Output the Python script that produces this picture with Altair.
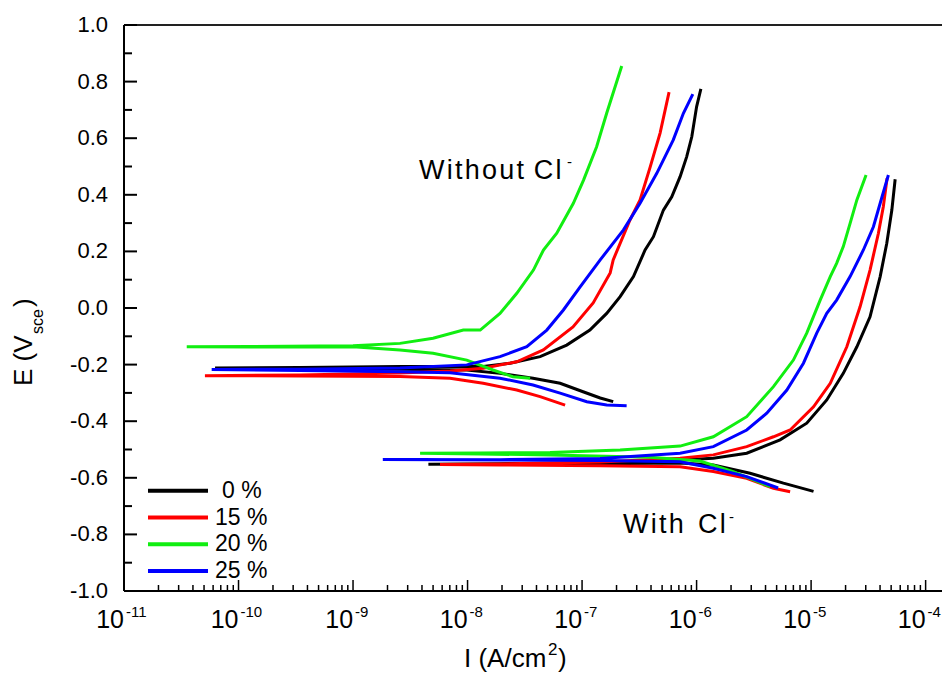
import altair as alt
import pandas as pd

SERIES = ["0 %", "15 %", "20 %", "25 %"]
COLORS = ["#000000", "#ff0000", "#11ee11", "#0000ff"]
FONT = "Liberation Sans"

# ---- Without Cl- (scan from cathodic end -> corrosion potential -> anodic end)
wo_0_I = [1.87e-7, 1.44e-7, 1.02e-7, 6.43e-8, 3.73e-8, 1.92e-8, 9.84e-9, 2.57e-9, 3.44e-10, 6.24e-11,
          3.44e-10, 2.57e-9, 1.37e-8, 2.35e-8, 4.30e-8, 7.34e-8, 1.17e-7, 1.64e-7, 2.15e-7, 2.81e-7,
          3.55e-7, 4.20e-7, 5.13e-7, 6.07e-7, 7.18e-7, 8.20e-7, 9.08e-7, 1.00e-6, 1.09e-6]
wo_0_E = [-0.331, -0.318, -0.296, -0.266, -0.248, -0.231, -0.219, -0.216, -0.214, -0.212,
          -0.210, -0.207, -0.207, -0.195, -0.172, -0.131, -0.078, -0.019, 0.040, 0.111,
          0.205, 0.252, 0.346, 0.393, 0.464, 0.535, 0.605, 0.711, 0.774]

wo_15_I = [7.11e-8, 4.30e-8, 2.69e-8, 1.37e-8, 7.03e-9, 2.57e-9, 3.44e-10, 5.09e-11,
           3.44e-10, 2.57e-9, 7.03e-9, 1.37e-8, 2.69e-8, 4.59e-8, 8.33e-8, 1.25e-7, 1.76e-7,
           1.87e-7, 2.62e-7, 3.21e-7, 3.93e-7, 4.80e-7, 5.75e-7]
wo_15_E = [-0.343, -0.313, -0.290, -0.266, -0.248, -0.242, -0.240, -0.239,
           -0.237, -0.230, -0.223, -0.213, -0.190, -0.148, -0.067, 0.018, 0.124,
           0.170, 0.311, 0.382, 0.498, 0.618, 0.763]

wo_20_I = [3.52e-8, 2.49e-8, 1.67e-8, 9.84e-9, 5.0e-9, 2.57e-9, 1.0e-9, 1.26e-10, 3.53e-11,
           1.26e-10, 1.0e-9, 2.57e-9, 5.0e-9, 9.18e-9, 1.29e-8, 1.92e-8, 2.69e-8, 3.76e-8,
           4.60e-8, 6.01e-8, 8.39e-8, 1.03e-7, 1.34e-7, 1.64e-7, 2.22e-7]
wo_20_E = [-0.248, -0.243, -0.219, -0.184, -0.160, -0.148, -0.137, -0.138, -0.137,
           -0.136, -0.133, -0.125, -0.107, -0.078, -0.078, -0.019, 0.052, 0.134,
           0.205, 0.264, 0.370, 0.452, 0.570, 0.688, 0.855]

wo_25_I = [2.45e-7, 1.64e-7, 1.10e-7, 6.43e-8, 3.73e-8, 1.92e-8, 7.03e-9, 2.57e-9, 3.44e-10, 5.83e-11,
           3.44e-10, 2.57e-9, 9.84e-9, 1.92e-8, 3.29e-8, 4.92e-8, 6.87e-8, 9.62e-8, 1.44e-7,
           2.30e-7, 3.21e-7, 4.49e-7, 6.26e-7, 7.67e-7, 9.27e-7]
wo_25_E = [-0.345, -0.343, -0.331, -0.301, -0.272, -0.248, -0.229, -0.225, -0.221, -0.217,
           -0.216, -0.212, -0.201, -0.172, -0.137, -0.078, -0.007, 0.075, 0.170,
           0.276, 0.370, 0.476, 0.594, 0.688, 0.756]

# ---- With Cl-
w_0_I = [1.05e-5, 5.73e-6, 2.93e-6, 1.40e-6, 7.18e-7, 1.44e-7, 1.92e-8, 4.55e-9,
         1.92e-8, 1.44e-7, 7.18e-7, 1.40e-6, 2.74e-6, 5.36e-6, 9.16e-6, 1.37e-5, 1.91e-5,
         2.51e-5, 3.27e-5, 4.01e-5, 4.58e-5, 5.07e-5, 5.42e-5]
w_0_E = [-0.648, -0.619, -0.584, -0.555, -0.548, -0.550, -0.551, -0.552,
         -0.550, -0.548, -0.537, -0.531, -0.513, -0.466, -0.407, -0.325, -0.231,
         -0.137, -0.031, 0.111, 0.229, 0.346, 0.455]

w_15_I = [6.56e-6, 4.69e-6, 2.74e-6, 1.40e-6, 7.18e-7, 1.44e-7, 1.92e-8, 5.75e-9,
          1.92e-8, 1.44e-7, 7.18e-7, 1.40e-6, 2.74e-6, 4.69e-6, 6.56e-6, 1.05e-5, 1.47e-5,
          2.05e-5, 2.68e-5, 3.27e-5, 3.87e-5, 4.27e-5, 4.61e-5]
w_15_E = [-0.649, -0.637, -0.602, -0.578, -0.561, -0.557, -0.555, -0.553,
          -0.551, -0.544, -0.531, -0.519, -0.490, -0.455, -0.431, -0.349, -0.266,
          -0.137, 0.005, 0.134, 0.264, 0.358, 0.459]

w_20_I = [4.39e-6, 2.09e-6, 1.07e-6, 3.93e-7, 5.26e-8, 1.29e-8, 3.85e-9,
          1.29e-8, 5.26e-8, 2.15e-7, 7.18e-7, 1.40e-6, 2.74e-6, 4.69e-6, 7.00e-6, 9.16e-6,
          1.20e-5, 1.47e-5, 1.67e-5, 1.91e-5, 2.19e-5, 2.51e-5, 3.02e-5]
w_20_E = [-0.631, -0.578, -0.541, -0.527, -0.519, -0.516, -0.513,
          -0.512, -0.511, -0.502, -0.488, -0.455, -0.384, -0.278, -0.184, -0.089,
          0.028, 0.111, 0.158, 0.217, 0.299, 0.382, 0.470]

w_25_I = [5.15e-6, 2.74e-6, 1.40e-6, 7.18e-7, 1.44e-7, 1.92e-8, 1.82e-9,
          1.92e-8, 1.44e-7, 7.18e-7, 1.40e-6, 2.74e-6, 4.10e-6, 6.14e-6, 8.57e-6, 1.12e-5,
          1.37e-5, 1.67e-5, 2.19e-5, 2.86e-5, 3.50e-5, 4.01e-5, 4.73e-5]
w_25_E = [-0.636, -0.596, -0.566, -0.543, -0.539, -0.537, -0.535,
          -0.536, -0.532, -0.513, -0.490, -0.431, -0.372, -0.290, -0.195, -0.089,
          -0.019, 0.028, 0.111, 0.205, 0.287, 0.370, 0.470]

Y_MAJOR = [-1.0, -0.8, -0.6, -0.4, -0.2, 0.0, 0.2, 0.4, 0.6, 0.8, 1.0]
Y_LABELS = ["-1.0", "-0.8", "-0.6", "-0.4", "-0.2", "0.0", "0.2", "0.4", "0.6", "0.8", "1.0"]
Y_MINOR = [-0.9, -0.7, -0.5, -0.3, -0.1, 0.1, 0.3, 0.5, 0.7, 0.9]
X_EXP = [-11, -10, -9, -8, -7, -6, -5, -4]
X_EXP_LABELS = ["-11", "-10", "-9", "-8", "-7", "-6", "-5", "-4"]

W, H = 818, 566
XMAX = 1.39e-4
HS = "\u200a"  # hair space, used for the wide letter spacing of the annotations

curves = [
    ("0 %", "without", wo_0_I, wo_0_E), ("15 %", "without", wo_15_I, wo_15_E),
    ("20 %", "without", wo_20_I, wo_20_E), ("25 %", "without", wo_25_I, wo_25_E),
    ("0 %", "with", w_0_I, w_0_E), ("15 %", "with", w_15_I, w_15_E),
    ("20 %", "with", w_20_I, w_20_E), ("25 %", "with", w_25_I, w_25_E),
]
rows = []
for s, c, Is, Es in curves:
    for k, (i, e) in enumerate(zip(Is, Es)):
        rows.append({"series": s, "cond": c, "key": s + "|" + c, "idx": k, "I": i, "E": e})
df = pd.DataFrame(rows)

xscale = alt.Scale(type="log", domain=[1e-11, XMAX], nice=False)
yscale = alt.Scale(domain=[-1, 1], nice=False, zero=False)

lines = alt.Chart(df).mark_line(strokeWidth=3, clip=True).encode(
    x=alt.X("I:Q", scale=xscale, axis=None),
    y=alt.Y("E:Q", scale=yscale, axis=None),
    color=alt.Color("series:N", scale=alt.Scale(domain=SERIES, range=COLORS), legend=None),
    detail="key:N",
    order="idx:Q",
)

one = pd.DataFrame({"a": [0]})

# axis lines (left, bottom) and top frame line
axes_lines = [
    alt.Chart(one).mark_rule(color="black", strokeWidth=2).encode(
        x=alt.value(0), y=alt.value(0), y2=alt.value(H)),
    alt.Chart(one).mark_rule(color="black", strokeWidth=2).encode(
        x=alt.value(0), x2=alt.value(W), y=alt.value(H)),
    alt.Chart(one).mark_rule(color="#222222", strokeWidth=2).encode(
        x=alt.value(0), x2=alt.value(W), y=alt.value(0)),
]

ymaj = alt.Chart(pd.DataFrame({"v": Y_MAJOR})).mark_rule(color="black", strokeWidth=2).encode(
    y=alt.Y("v:Q", scale=yscale, axis=None), x=alt.value(0), x2=alt.value(13))
ymin = alt.Chart(pd.DataFrame({"v": Y_MINOR})).mark_rule(color="black", strokeWidth=2).encode(
    y=alt.Y("v:Q", scale=yscale, axis=None), x=alt.value(0), x2=alt.value(8))
ylab = alt.Chart(pd.DataFrame({"v": Y_MAJOR, "t": Y_LABELS})).mark_text(
    font=FONT, fontSize=22, align="right", baseline="middle", color="black").encode(
    y=alt.Y("v:Q", scale=yscale, axis=None), x=alt.value(-16), text="t:N")

xmaj_vals = [10.0 ** e for e in X_EXP]
xmin_vals = [k * 10.0 ** e for e in X_EXP for k in range(2, 10) if k * 10.0 ** e <= XMAX]
xmaj = alt.Chart(pd.DataFrame({"v": xmaj_vals})).mark_rule(color="black", strokeWidth=1.5).encode(
    x=alt.X("v:Q", scale=xscale, axis=None), y=alt.value(H), y2=alt.value(H - 11))
xmin = alt.Chart(pd.DataFrame({"v": xmin_vals})).mark_rule(color="black", strokeWidth=1.5).encode(
    x=alt.X("v:Q", scale=xscale, axis=None), y=alt.value(H), y2=alt.value(H - 6))

lab_df = pd.DataFrame({"v": xmaj_vals, "exp": X_EXP_LABELS, "base": ["10"] * len(X_EXP)})
xbase = alt.Chart(lab_df).mark_text(font=FONT, fontSize=25, align="right", baseline="alphabetic",
                                    color="black").encode(
    x=alt.X("v:Q", scale=xscale, axis=None), y=alt.value(H + 37), text="base:N")
xexp = alt.Chart(lab_df).mark_text(font=FONT, fontSize=15, align="left", baseline="alphabetic",
                                   color="black", dx=2).encode(
    x=alt.X("v:Q", scale=xscale, axis=None), y=alt.value(H + 26), text="exp:N")


def txt(t, x, y, size, **kw):
    return alt.Chart(one).mark_text(text=t, font=FONT, fontSize=size, color="black", **kw).encode(
        x=alt.value(x), y=alt.value(y))


ytitle = [
    txt("E (V", -92, 361, 26, angle=270, align="left", baseline="alphabetic"),
    txt("sce", -81, 309, 16, angle=270, align="left", baseline="alphabetic"),
    txt(")", -92, 282, 26, angle=270, align="left", baseline="alphabetic"),
]
xtitle = [
    txt("I (A/cm", 340, 642, 26, align="left", baseline="alphabetic"),
    txt("2", 424, 630, 17, align="left", baseline="alphabetic"),
    txt(")", 434, 642, 26, align="left", baseline="alphabetic"),
]

annot = [
    txt(HS.join("Without") + " " + HS + HS.join("Cl"), 295, 154, 27, align="left", baseline="alphabetic"),
    txt("-", 443, 142, 15, align="left", baseline="alphabetic"),
    txt(HS.join("With") + " " + HS * 3 + HS.join("Cl"), 499, 508, 27, align="left", baseline="alphabetic"),
    txt("-", 605, 497, 15, align="left", baseline="alphabetic"),
]

legend = []
for i, (s, col) in enumerate(zip(SERIES, COLORS)):
    yy = 465.7 + 26.8 * i
    legend.append(alt.Chart(one).mark_rule(color=col, strokeWidth=4).encode(
        x=alt.value(24), x2=alt.value(84), y=alt.value(yy)))
    legend.append(txt(s, 98 if i == 0 else 91, yy, 23, align="left", baseline="middle"))

chart = alt.layer(lines, *axes_lines, ymaj, ymin, ylab, xmaj, xmin, xbase, xexp,
                  *ytitle, *xtitle, *annot, *legend).properties(
    width=W, height=H,
    autosize=alt.AutoSizeParams(type="none"),
    padding={"left": 116, "top": 17, "right": 1, "bottom": 82},
).configure_view(stroke=None)

chart.save("out.html", embed_options={"renderer": "svg", "actions": False})
